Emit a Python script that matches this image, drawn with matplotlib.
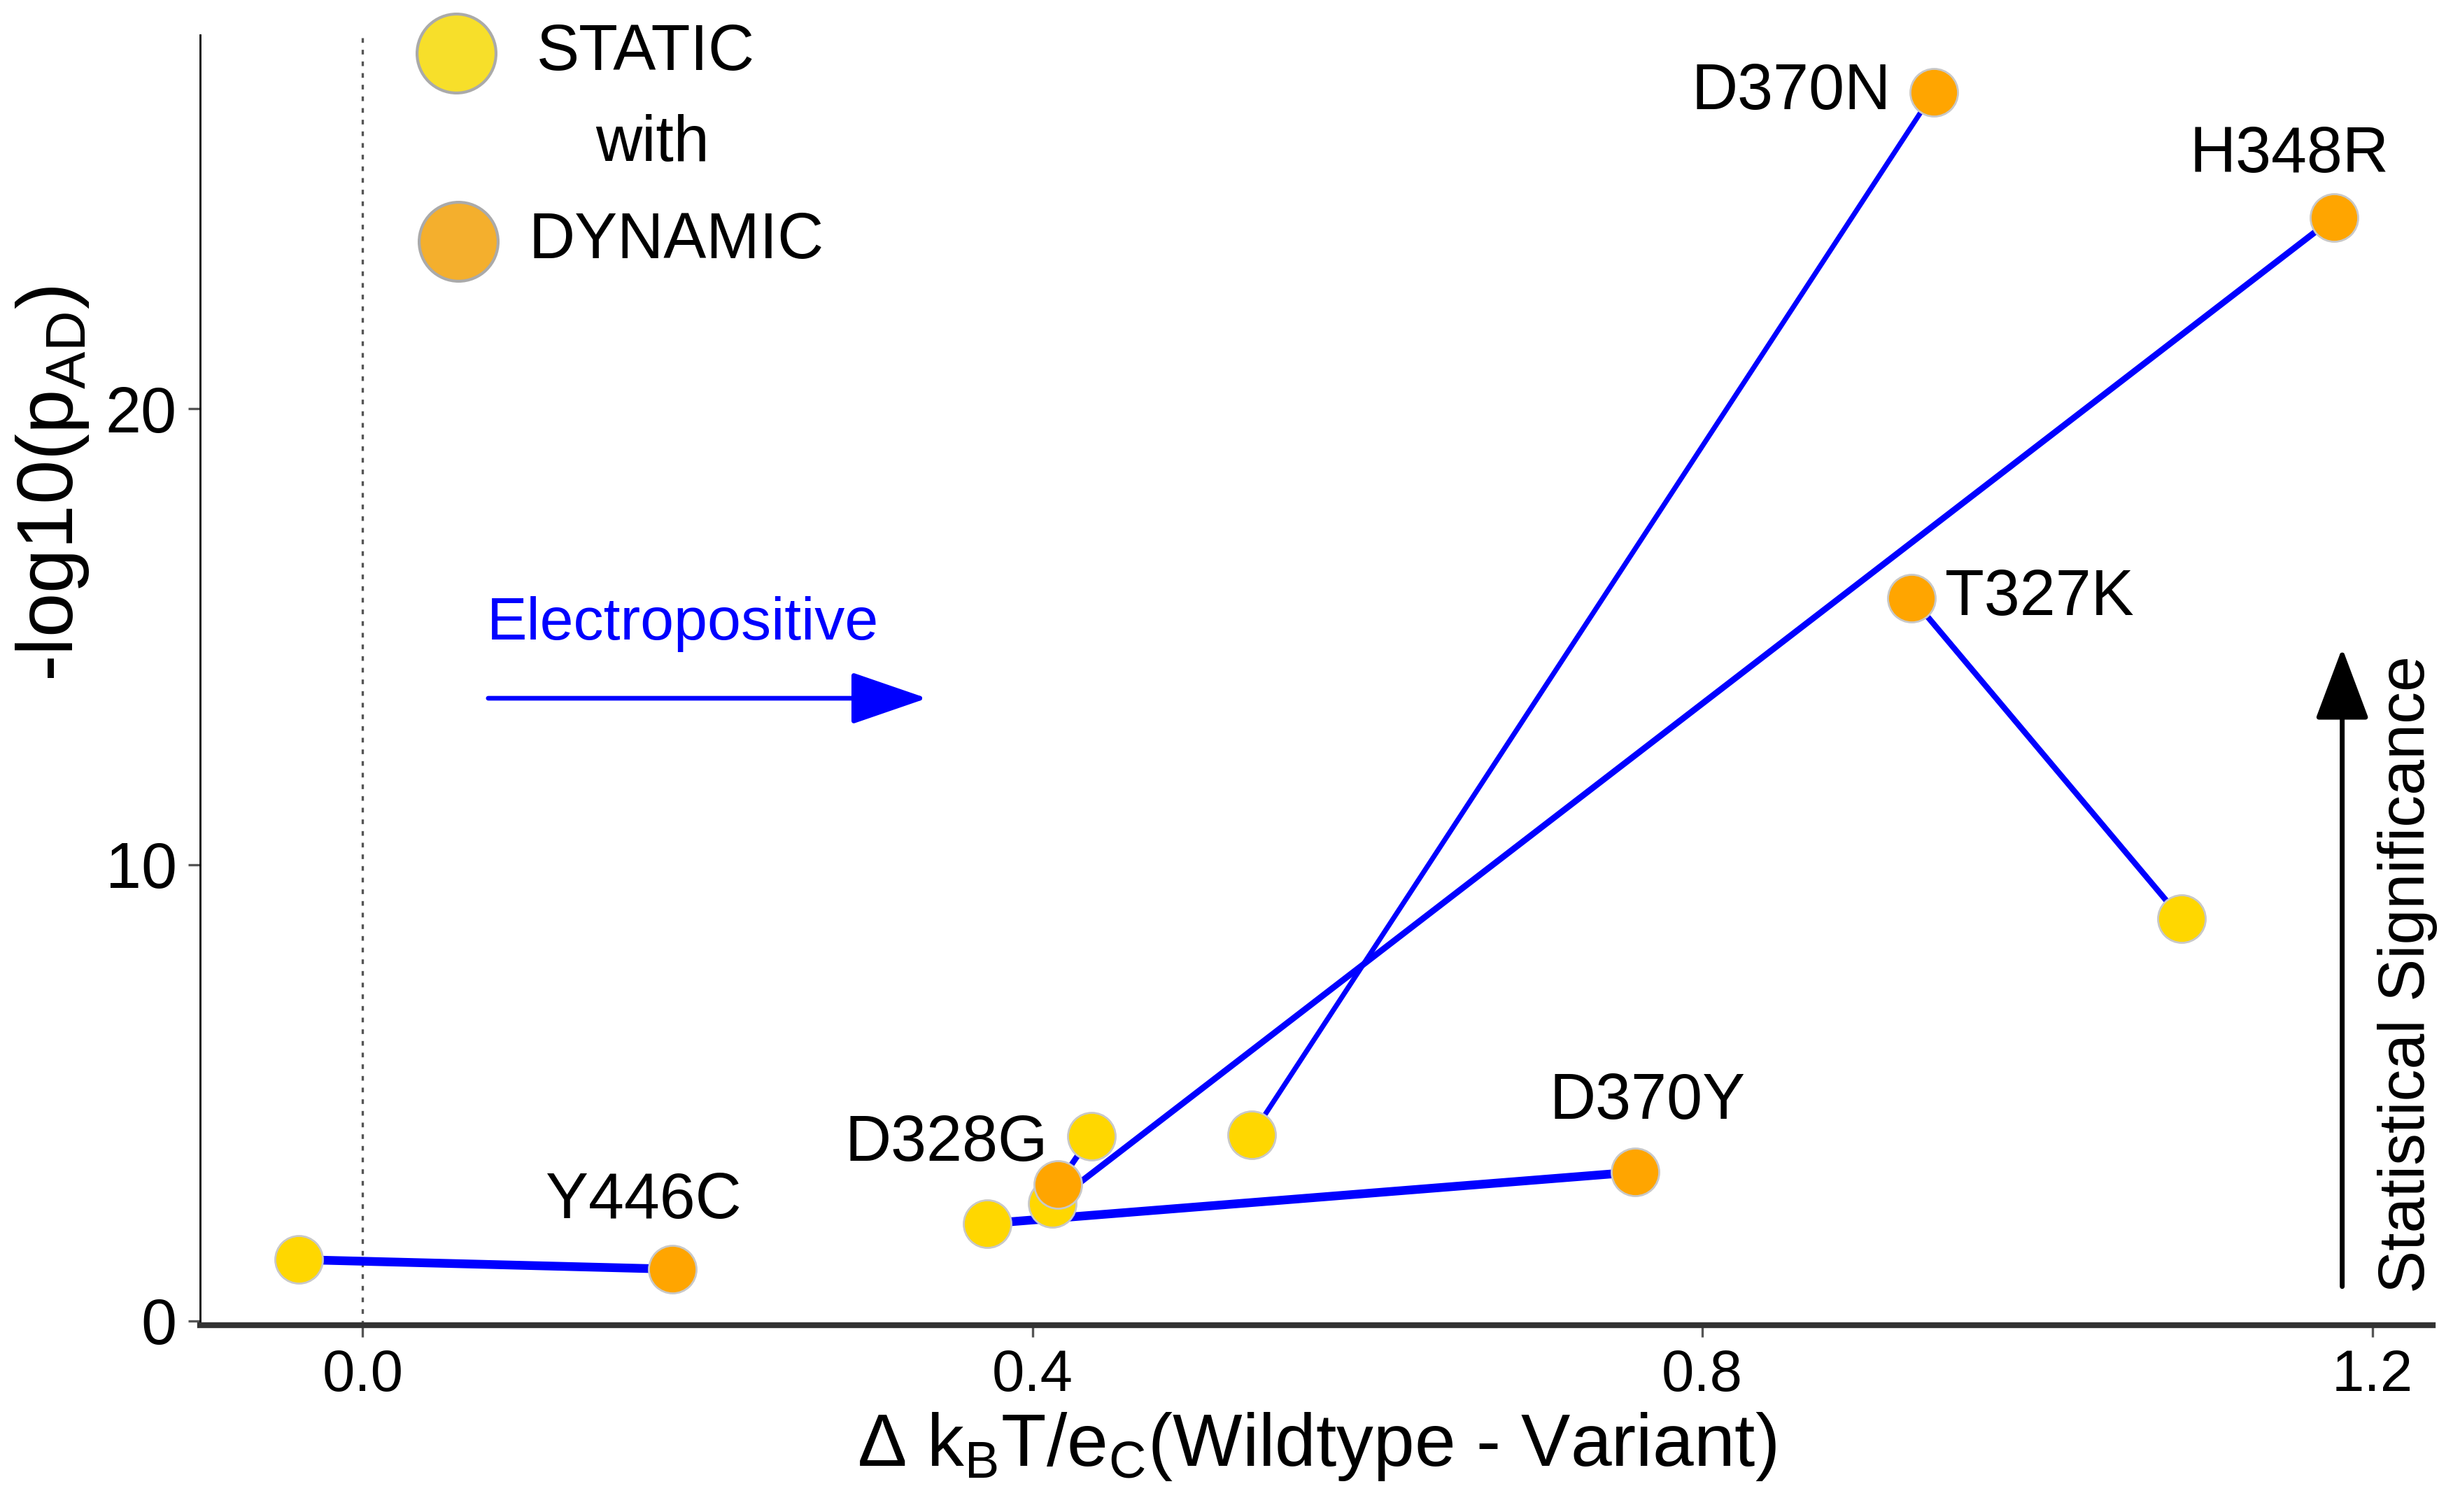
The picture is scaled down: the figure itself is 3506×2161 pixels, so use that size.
import matplotlib.pyplot as plt
import numpy as np

plt.rcParams['font.family'] = ['Liberation Sans', 'DejaVu Sans']
plt.rcParams['mathtext.fontset'] = 'custom'
plt.rcParams['mathtext.rm'] = 'Liberation Sans'

# Static vs dynamic electrostatics per variant
variants = ['Y446C', 'D370Y', 'D328G', 'H348R', 'D370N', 'T327K']
static_x = [-0.038, 0.373, 0.435, 0.412, 0.531, 1.086]
static_y = [1.34, 2.13, 4.05, 2.57, 4.08, 8.82]
dynamic_x = [0.185, 0.760, 0.415, 1.177, 0.938, 0.925]
dynamic_y = [1.13, 3.26, 2.98, 24.19, 26.93, 15.85]

line_w = [4.5, 4.5, 3.0, 3.2, 2.6, 3.0]
# label offsets (points) from the dynamic point
label_dx = [-15, 6, -5, -23, -22, 17]
label_dy = [35, 36, 21, 32, 0, 0]
label_ha = ['center', 'center', 'right', 'center', 'right', 'left']

fig = plt.figure(figsize=(17.53, 10.805), dpi=200)
ax = fig.add_axes([0.0816, 0.1235, 0.9101, 0.8535])

ax.axvline(0, color='#555555', lw=1.2, ls=(0, (2, 3)), zorder=1)

for i in range(len(variants)):
    ax.plot([static_x[i], dynamic_x[i]], [static_y[i], dynamic_y[i]],
            color='#0000FF', lw=line_w[i], solid_capstyle='butt', zorder=2)

ax.scatter(static_x, static_y, s=600, color='#FFD700', edgecolor='#C8C8C8',
           linewidth=1.0, zorder=3)
ax.scatter(dynamic_x, dynamic_y, s=600, color='#FFA500', edgecolor='#C8C8C8',
           linewidth=1.0, zorder=4)

for i, name in enumerate(variants):
    ax.annotate(name, (dynamic_x[i], dynamic_y[i]), xytext=(label_dx[i], label_dy[i]),
                textcoords='offset points', ha=label_ha[i], va='center', fontsize=33)

# legend-like key
ax.scatter([0.056], [27.79], s=1650, color='#F7DF2A', edgecolor='#AAAAAA',
           linewidth=1.5, zorder=5, clip_on=False)
ax.scatter([0.057], [23.67], s=1650, color='#F4AF2D', edgecolor='#AAAAAA',
           linewidth=1.5, zorder=5, clip_on=False)
ax.text(0.104, 27.79, 'STATIC', fontsize=33, va='center', ha='left')
ax.text(0.173, 25.8, 'with', fontsize=33, va='center', ha='center')
ax.text(0.099, 23.67, 'DYNAMIC', fontsize=33, va='center', ha='left')

# electropositive arrow
ax.text(0.074, 15.27, 'Electropositive', color='#0000FF', fontsize=31,
        va='center', ha='left')
ax.annotate('', xy=(0.337, 13.65), xytext=(0.075, 13.65),
            arrowprops=dict(arrowstyle='-|>,head_length=3.4,head_width=1.17',
                            color='#0000FF', lw=2.4, shrinkA=0, shrinkB=0))

# significance arrow
ax.annotate('', xy=(1.182, 14.75), xytext=(1.182, 0.75),
            arrowprops=dict(arrowstyle='-|>,head_length=3.2,head_width=1.2',
                            color='black', lw=2.5, shrinkA=0, shrinkB=0))
ax.text(1.221, 7.6, 'Statistical Significance', rotation=90, fontsize=33,
        va='center', ha='center')

ax.set_xlim(-0.097, 1.236)
ax.set_ylim(-0.1, 28.2)
ax.set_xticks([0.0, 0.4, 0.8, 1.2])
ax.set_xticklabels(['0.0', '0.4', '0.8', '1.2'])
ax.set_yticks([0, 10, 20])

ax.spines['top'].set_visible(False)
ax.spines['right'].set_visible(False)
ax.spines['left'].set_linewidth(1.0)
ax.spines['bottom'].set_linewidth(3.0)
ax.spines['bottom'].set_color('#333333')
ax.tick_params(axis='both', length=6, width=1.2, color='#555555', pad=6)
ax.tick_params(axis='x', labelsize=30)
ax.tick_params(axis='y', labelsize=33)

ax.set_xlabel(r'Δ k$_\mathregular{B}$T/e$_\mathregular{C}$(Wildtype - Variant)', fontsize=38)
ax.xaxis.set_label_coords(0.5, -0.066)
ax.set_ylabel(r'-log10(p$_\mathregular{AD}$)', fontsize=41)
ax.yaxis.set_label_coords(-0.049, 0.652)

fig.savefig('out.png', dpi=200)
